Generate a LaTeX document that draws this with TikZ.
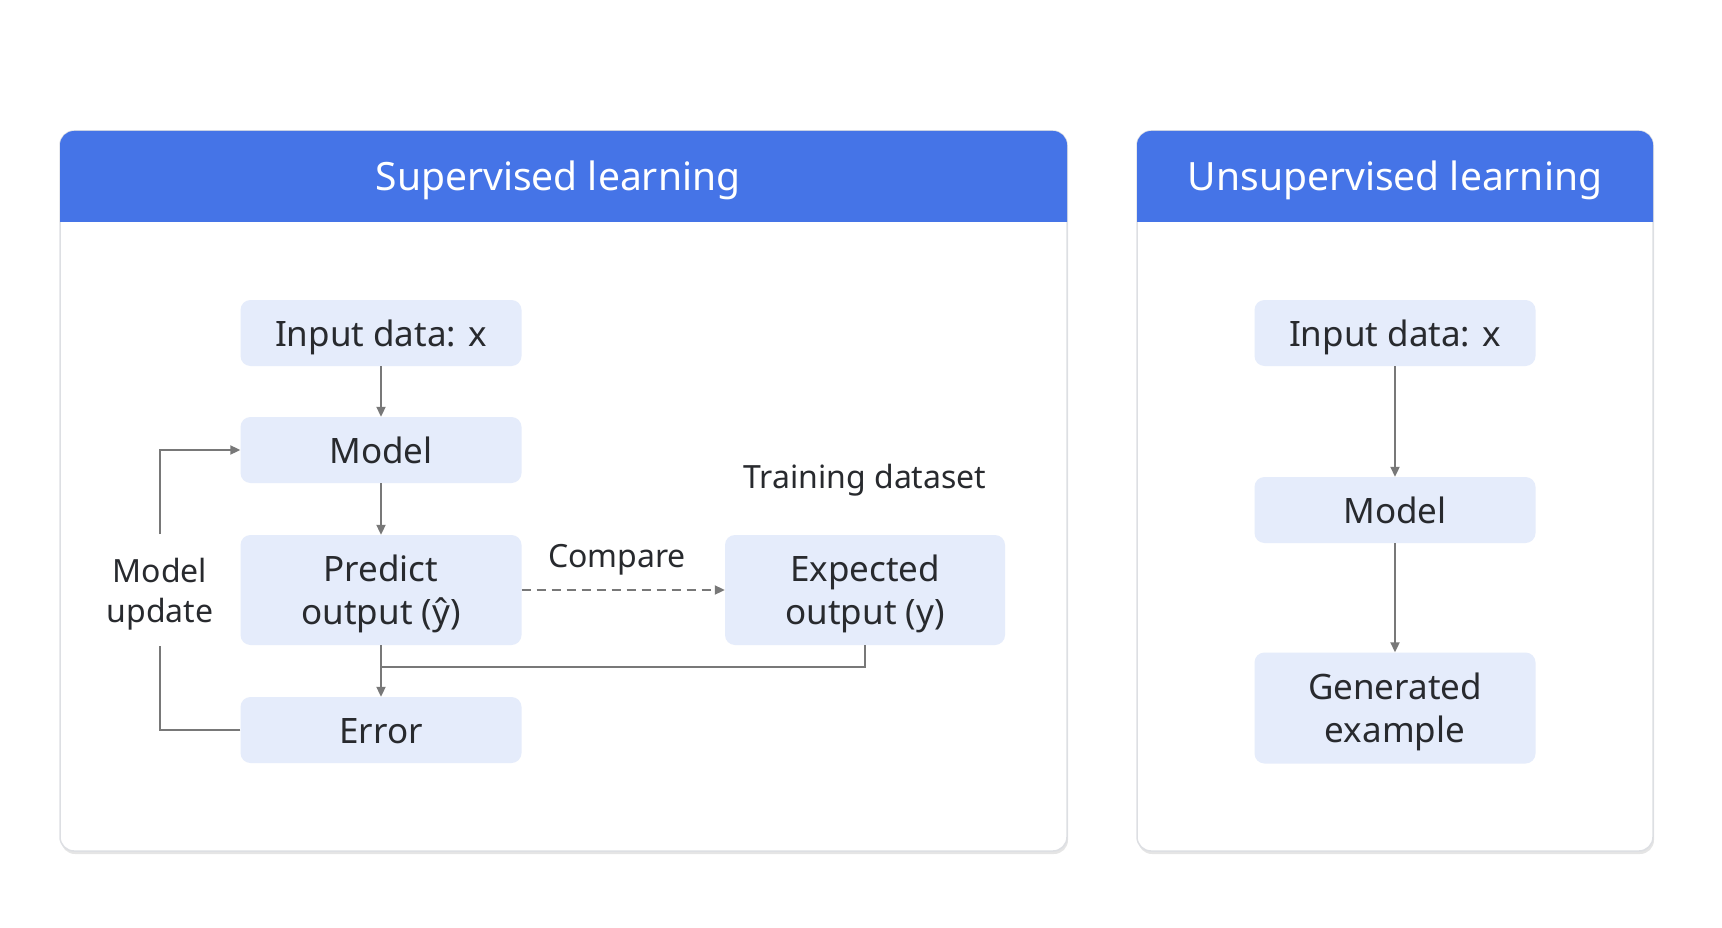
\documentclass[tikz,border=0pt]{standalone}
\usepackage{fontspec}
\setmainfont{Noto Sans}
\usetikzlibrary{arrows.meta,calc}
\definecolor{hdr}{HTML}{4574E7}
\definecolor{boxfill}{HTML}{E5ECFB}
\definecolor{txt}{HTML}{282A2E}
\definecolor{ln}{HTML}{787878}
\definecolor{frame}{HTML}{DDDFE3}
\newcommand\mystrut{\rule{0pt}{34pt}}
\begin{document}
\begin{tikzpicture}[x=1pt,y=-1pt,
  box/.style={fill=boxfill, rounded corners=10pt, minimum width=281pt, minimum height=66pt,
    text=txt, font=\fontsize{35}{43}\selectfont, align=center, inner sep=0pt,
    text height=27pt, text depth=0pt},
  tall/.style={minimum height=110pt, text height=, text depth=},
  lbl/.style={text=txt, font=\fontsize{32}{40}\selectfont, align=center, inner sep=0pt},
  ttl/.style={text=white, font=\fontsize{39}{46}\selectfont, inner sep=0pt},
  conn/.style={draw=ln, line width=2pt},
  arr/.style={conn, -{Triangle[length=10pt,width=9pt]}},
  panel/.style={fill=white, draw=frame, line width=1.5pt, rounded corners=14pt},
  shadowbox/.style={fill=black!10, rounded corners=14pt}
]
\useasboundingbox (0,0) rectangle (1722,928);

% panels
\fill[shadowbox] (61,134) rectangle (1068,854);
\path[panel] (60,131) rectangle (1067,851);
\fill[hdr] (60,222) [rounded corners=14pt] -- (60,131) -- (1067,131) [sharp corners] -- (1067,222) -- cycle;
\node[ttl] (t1) at (558,180) {Supervised learning};

\fill[shadowbox] (1138,134) rectangle (1654,854);
\path[panel] (1137,131) rectangle (1653,851);
\fill[hdr] (1137,222) [rounded corners=14pt] -- (1137,131) -- (1653,131) [sharp corners] -- (1653,222) -- cycle;
\node[ttl] (t2) at (1395,180) {Unsupervised learning};

% supervised nodes
\node[box] (in1) at (381,333) {Input data: x};
\node[box] (m1) at (381,450) {Model};
\node[box, tall] (p1) at (381,590) {\mystrut Predict\\output (ŷ)};
\node[box] (e1) at (381,730) {Error};
\node[box, tall, minimum width=280pt] (ex) at (865,590) {\mystrut Expected\\output (y)};
\node[lbl] (tr) at (865,480) {Training dataset};
\node[lbl] (cmp) at (617,560) {Compare};
\node[lbl] (mu) at (160,594) {Model\\update};

\draw[arr] (in1) -- (m1);
\draw[arr] (m1) -- (p1);
\draw[arr] (p1) -- (e1);
\coordinate (j) at ($(p1.south)+(0,22)$);
\draw[conn] (ex.south) -- (ex.south |- j) -- (j);
\draw[arr, dash pattern=on 9pt off 6pt] (p1.east) -- (ex.west);
\coordinate (mub) at (160,646);
\coordinate (mut) at (160,534);
\draw[conn] (e1.west) -| (mub);
\draw[arr] (mut) |- (m1.west);

% unsupervised nodes
\node[box] (in2) at (1395,333) {Input data: x};
\node[box] (m2) at (1395,510) {Model};
\node[box, tall, minimum height=111pt] (g2) at (1395,708) {\mystrut Generated\\example};
\draw[arr] (in2) -- (m2);
\draw[arr] (m2) -- (g2);
\end{tikzpicture}
\end{document}
